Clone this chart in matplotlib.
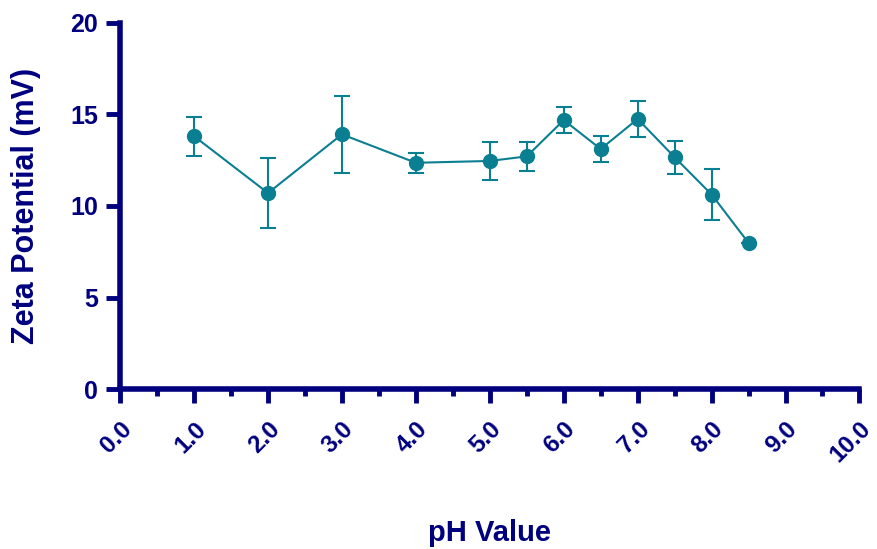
import numpy as np
import matplotlib.pyplot as plt
from matplotlib.ticker import MultipleLocator, FormatStrFormatter

ph = [1.0, 2.0, 3.0, 4.0, 5.0, 5.5, 6.0, 6.5, 7.0, 7.5, 8.0, 8.5]
zeta = [13.8, 10.7, 13.9, 12.35, 12.45, 12.7, 14.68, 13.1, 14.74, 12.65, 10.62, 7.98]
sd = [1.07, 1.9, 2.1, 0.55, 1.02, 0.78, 0.71, 0.71, 0.97, 0.89, 1.38, 0.0]

navy = '#00007f'
teal = '#0b7f92'

plt.rcParams['font.family'] = ['Liberation Sans', 'DejaVu Sans']
plt.rcParams['font.weight'] = 'bold'

fig = plt.figure(figsize=(8.77, 5.49), dpi=100)
ax = fig.add_axes([0.137, 0.291, 0.843, 0.668])

ax.errorbar(ph, zeta, yerr=sd, color=teal, marker='o', markersize=10,
            linewidth=1.5, elinewidth=1.5, capsize=5.5, capthick=1.5)

ax.set_xlim(0, 10)
ax.set_ylim(0, 20)
ax.xaxis.set_major_locator(MultipleLocator(1.0))
ax.xaxis.set_minor_locator(MultipleLocator(0.5))
ax.xaxis.set_major_formatter(FormatStrFormatter('%.1f'))
ax.yaxis.set_major_locator(MultipleLocator(5))

for s in ['top', 'right']:
    ax.spines[s].set_visible(False)
for s in ['left', 'bottom']:
    ax.spines[s].set_color(navy)
    ax.spines[s].set_linewidth(4)

ax.tick_params(axis='both', which='major', length=10, width=3.5, color=navy,
               labelcolor=navy, labelsize=18)
ax.tick_params(axis='x', which='major', labelsize=17.5)
ax.tick_params(axis='x', which='minor', length=5, width=3.5, color=navy)
ax.tick_params(axis='y', pad=6)
ax.tick_params(axis='x', pad=10)
plt.setp(ax.get_xticklabels(), rotation=45, ha='right', rotation_mode='anchor')

ax.set_xlabel('pH Value', fontsize=21, color=navy, fontweight='bold')
ax.xaxis.set_label_coords(0.5, -0.355)
ax.set_ylabel('Zeta Potential (mV)', fontsize=22, color=navy, fontweight='bold',
              va='center')
ax.yaxis.set_label_coords(-0.128, 0.5)

fig.savefig('out.png', dpi=100)
